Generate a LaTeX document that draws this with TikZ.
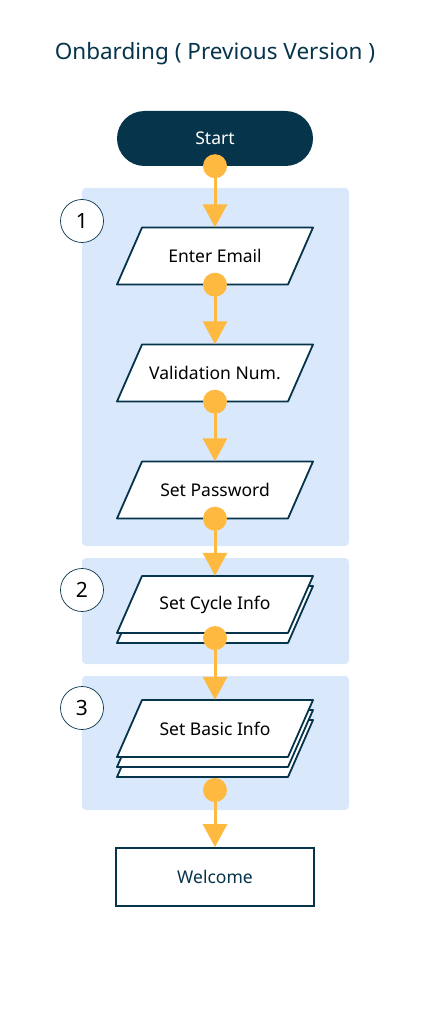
\documentclass[tikz,border=0pt]{standalone}
\usepackage{fontspec}
\setmainfont{Noto Sans}
\usetikzlibrary{arrows.meta}
\definecolor{navy}{HTML}{05344B}
\definecolor{amber}{HTML}{FDB940}
\definecolor{panelblue}{HTML}{DAE8FC}
% slanted input/output box: name, centre, text
\newcommand\iobox[3]{%
  \draw[ioline, shift={(#2)}] (-98,28.5) -- (73,28.5) -- (98,-28.5) -- (-73,-28.5) -- cycle;
  \node[boxtext, minimum width=171pt, minimum height=57pt] (#1) at (#2) {#3};}
\begin{document}
\begin{tikzpicture}[x=1pt,y=-1pt,
    ioline/.style={draw=navy, line width=1.8pt, fill=white, line join=round},
    boxtext/.style={inner sep=0pt, font=\fontsize{17.5}{21}\selectfont},
    badge/.style={circle, draw=navy, line width=0.7pt, fill=white,
      minimum size=43pt, inner sep=0pt, font=\fontsize{21}{25}\selectfont},
    flow/.style={-{Triangle[width=24pt,length=23pt]}, amber, line width=3pt},
    dot/.style={amber}]
      \useasboundingbox (0,0) rectangle (430,1024);

      \node[text=navy, font=\fontsize{22.5}{27}\selectfont] (title) at (215,53.5) {Onbarding ( Previous Version )};

      % step panels
      \fill[panelblue, rounded corners=4pt] (82,188) rectangle (349,546);
      \fill[panelblue, rounded corners=4pt] (82,558) rectangle (349,664);
      \fill[panelblue, rounded corners=4pt] (82,676) rectangle (349,810);

      \node[badge] (badge1) at (82,221) {1};
      \node[badge] (badge2) at (82,590) {2};
      \node[badge] (badge3) at (82,708) {3};

      \node[boxtext, fill=navy, text=white, rounded corners=27.5pt, minimum width=196pt,
        minimum height=55pt] (start) at (215,138.5) {Start};

      \iobox{email}{215,256}{Enter Email}
      \iobox{valid}{215,373}{Validation Num.}
      \iobox{passwd}{215,490}{Set Password}

      \iobox{cycleback}{215,614.5}{}
      \iobox{cycle}{215,604.5}{Set Cycle Info}

      \iobox{basicback2}{215,748.5}{}
      \iobox{basicback1}{215,738.5}{}
      \iobox{basic}{215,728.5}{Set Basic Info}

      \node[boxtext, draw=navy, line width=1.8pt, fill=white, minimum width=198pt,
        minimum height=58pt, text=navy] (welcome) at (215,877) {Welcome};

      \coordinate (cycledot) at (215,638);
      \coordinate (basicdot) at (215,790);

      \draw[flow] (start.south) -- (email.north);
      \draw[flow] (email.south) -- (valid.north);
      \draw[flow] (valid.south) -- (passwd.north);
      \draw[flow] (passwd.south) -- (cycle.north);
      \draw[flow] (cycledot) -- (basic.north);
      \draw[flow] (basicdot) -- (welcome.north);

      \fill[dot] (start.south) circle (12);
      \fill[dot] (email.south) circle (12);
      \fill[dot] (valid.south) circle (12);
      \fill[dot] (passwd.south) circle (12);
      \fill[dot] (cycledot) circle (12);
      \fill[dot] (basicdot) circle (12);
\end{tikzpicture}
\end{document}
